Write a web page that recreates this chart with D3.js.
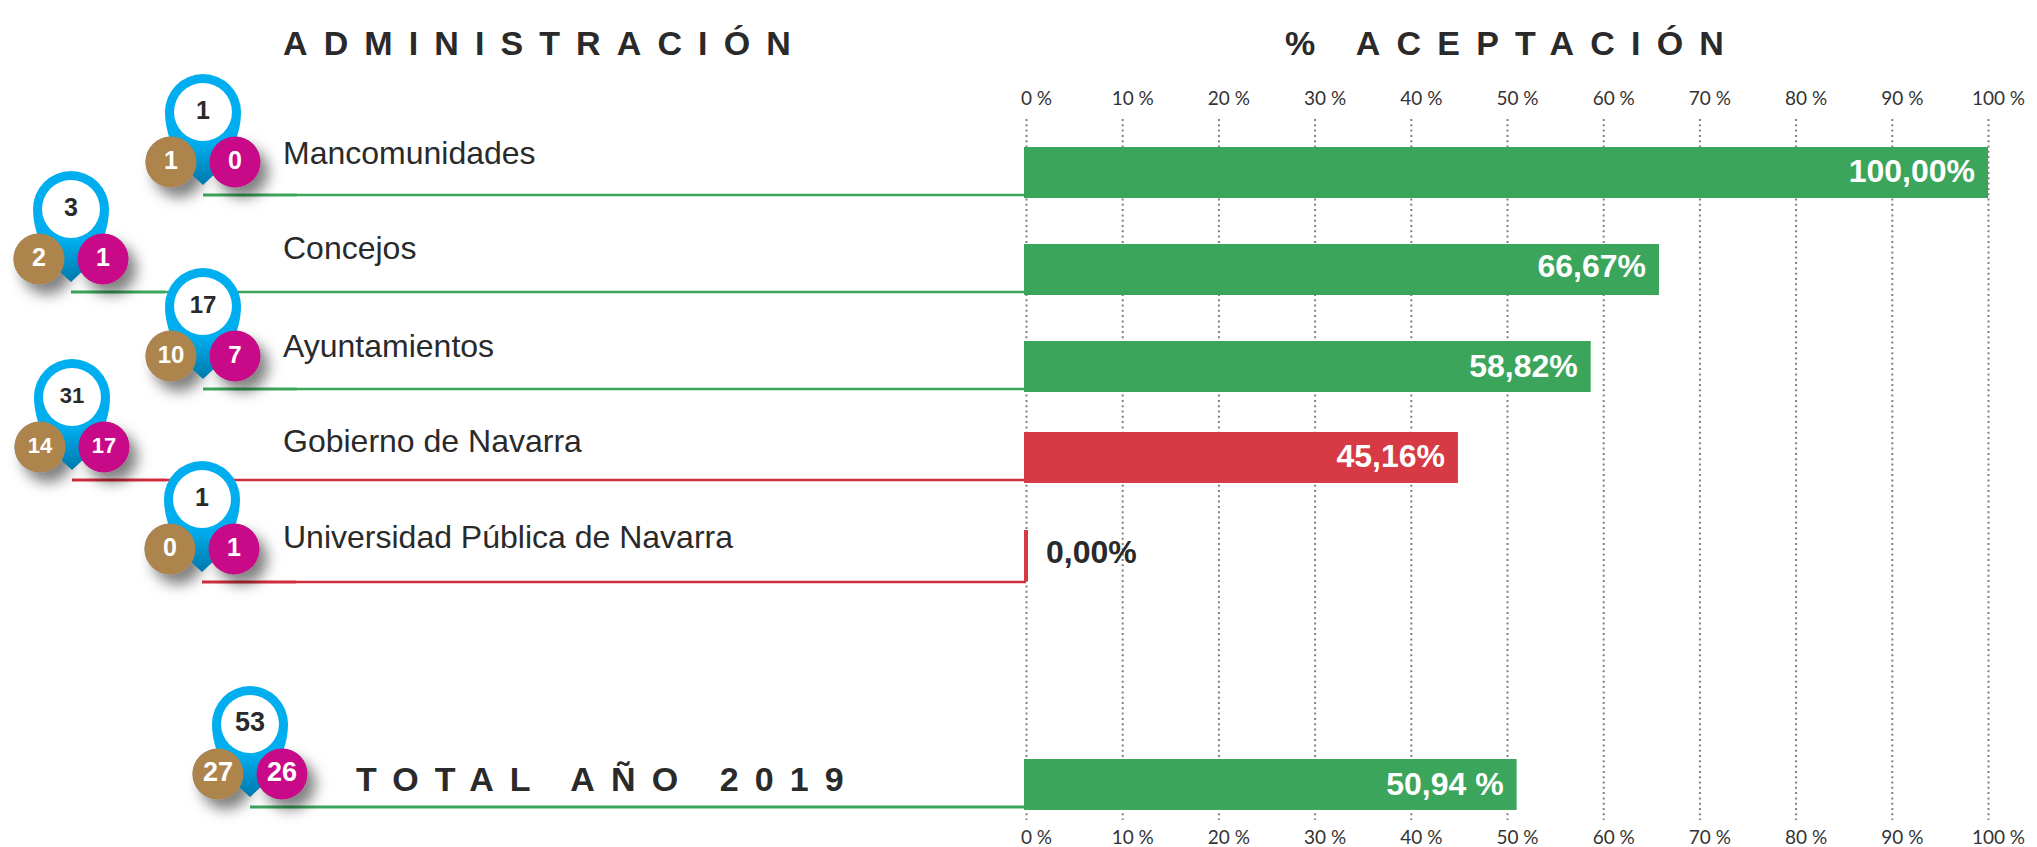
<!DOCTYPE html>
<html>

<head>
    <meta charset="utf-8">
    <script src="https://d3js.org/d3.v7.min.js"></script>
    <style type="text/css">
        html, body {
            margin: 0;
            background: #fff;
        }

        svg {
            display: block;
        }

        text {
            font-family: "Liberation Sans", sans-serif;
            fill: #2a2a2a;
        }

        .heading {
            font-size: 34px;
            font-weight: bold;
        }

        .cat {
            font-size: 32px;
        }

        .value {
            font-size: 32px;
            font-weight: bold;
        }

        .axis text {
            font-family: Lato, sans-serif;
            font-size: 19px;
            fill: #333;
        }

        .axis path.domain {
            display: none;
        }

        .grid line {
            stroke: #808080;
            stroke-width: 2;
            stroke-dasharray: 2 3.3;
        }
    </style>
</head>

<body>
    <div id="chart"></div>

    <script>
        const categories = ["Mancomunidades", "Concejos", "Ayuntamientos", "Gobierno de Navarra", "Universidad Pública de Navarra", "TOTAL AÑO 2019"];
        const barValues = [100, 65.8, 58.7, 44.9, 0, 51];
        const valueLabels = ["100,00%", "66,67%", "58,82%", "45,16%", "0,00%", "50,94 %"];
        const totals = [1, 3, 17, 31, 1, 53];
        const inFavour = [1, 2, 10, 14, 0, 27];
        const against = [0, 1, 7, 17, 1, 26];
        const accepted = [true, true, true, false, false, true];
        const ticks = [0, 10, 20, 30, 40, 50, 60, 70, 80, 90, 100];

        const width = 2037, height = 847;

        const svg = d3.select("#chart").append("svg")
            .attr("width", width)
            .attr("height", height);

        const x = d3.scaleLinear().domain([0, 100]).range([1026, 1988]);

        // rows are not evenly spaced in the original, so these are ordinal
        const barTop = d3.scaleOrdinal().domain(categories).range([147, 244, 341, 432, 530, 759]);
        const valueBase = d3.scaleOrdinal().domain(categories).range([182, 277, 377, 467, 563, 795]);
        const lineY = d3.scaleOrdinal().domain(categories).range([195, 292, 389, 480, 582, 807]);
        const pinX = d3.scaleOrdinal().domain(categories).range([203, 71, 203, 72, 202, 250]);
        const catBase = d3.scaleOrdinal().domain(categories).range([164, 259, 357, 452, 548, 791]);
        const pinFont = d3.scaleOrdinal().domain(categories).range([25, 25, 24, 22, 25, 27]);
        const barH = 51;

        const defs = svg.append("defs");

        const grad = defs.append("linearGradient")
            .attr("id", "pinGrad")
            .attr("x1", 0).attr("x2", 0).attr("y1", 0).attr("y2", 1);
        grad.append("stop").attr("offset", "0.62").attr("stop-color", "#00aeef");
        grad.append("stop").attr("offset", "1").attr("stop-color", "#0078ab");

        const shadow = defs.append("filter")
            .attr("id", "shadow")
            .attr("x", "-50%").attr("y", "-50%").attr("width", "220%").attr("height", "220%");
        shadow.append("feDropShadow")
            .attr("dx", 8).attr("dy", 10)
            .attr("stdDeviation", 7)
            .attr("flood-color", "#000")
            .attr("flood-opacity", 0.5);

        // Grid and tick labels
        const axisTop = svg.append("g")
            .attr("class", "axis grid")
            .attr("transform", "translate(0,119)")
            .call(d3.axisTop(x).tickValues(ticks).tickSize(-701).tickPadding(14).tickFormat(d => d + " %"));
        axisTop.selectAll("text").attr("dx", 10);

        const axisBottom = svg.append("g")
            .attr("class", "axis")
            .attr("transform", "translate(0,830)")
            .call(d3.axisBottom(x).tickValues(ticks).tickSize(0).tickPadding(0).tickFormat(d => d + " %"));
        axisBottom.selectAll("text").attr("dx", 10);

        // Headings
        svg.append("text").attr("class", "heading")
            .attr("x", 283).attr("y", 55)
            .style("letter-spacing", "16.1px")
            .text("ADMINISTRACIÓN");
        svg.append("text").attr("class", "heading")
            .attr("x", 1285).attr("y", 55)
            .style("letter-spacing", "16.2px")
            .text("% ACEPTACIÓN");

        const rows = categories.map((c, i) => ({
            name: c,
            bar: barValues[i],
            label: valueLabels[i],
            total: totals[i],
            yes: inFavour[i],
            no: against[i],
            color: accepted[i] ? "#3ca55c" : "#d63a44",
            lineColor: accepted[i] ? "#3ca55c" : "#cf2f3c"
        }));

        // Underlines: thick part near the pin, thin to the bar
        svg.selectAll(".thin").data(rows).enter().append("line")
            .attr("class", "thin")
            .attr("x1", d => pinX(d.name) + 94)
            .attr("x2", x(0))
            .attr("y1", d => lineY(d.name))
            .attr("y2", d => lineY(d.name))
            .attr("stroke", d => d.lineColor)
            .attr("stroke-width", d => d.name.startsWith("TOTAL") ? 3 : 2.5);
        svg.selectAll(".thick").data(rows).enter().append("line")
            .attr("class", "thick")
            .attr("x1", d => pinX(d.name))
            .attr("x2", d => pinX(d.name) + 94)
            .attr("y1", d => lineY(d.name))
            .attr("y2", d => lineY(d.name))
            .attr("stroke", d => d.lineColor)
            .attr("stroke-width", 3.2);

        // Bars
        svg.selectAll(".bar").data(rows).enter().append("rect")
            .attr("class", "bar")
            .attr("x", x(0) - 2)
            .attr("y", d => barTop(d.name))
            .attr("width", d => x(d.bar) - x(0) + (d.bar === 0 ? 4 : 2))
            .attr("height", barH)
            .attr("fill", d => d.color);

        // Bar labels
        svg.selectAll(".value").data(rows).enter().append("text")
            .attr("class", "value")
            .attr("x", d => d.bar === 0 ? x(0) + 20 : x(d.bar) - 13)
            .attr("y", d => valueBase(d.name))
            .attr("text-anchor", d => d.bar === 0 ? "start" : "end")
            .style("fill", d => d.bar === 0 ? "#2a2a2a" : "#fff")
            .text(d => d.label);

        // Category names
        svg.selectAll(".cat").data(rows).enter().append("text")
            .attr("class", d => d.name.startsWith("TOTAL") ? "heading" : "cat")
            .attr("x", d => d.name.startsWith("TOTAL") ? 356 : 283)
            .attr("y", d => catBase(d.name))
            .style("letter-spacing", d => d.name.startsWith("TOTAL") ? "16.1px" : null)
            .text(d => d.name);

        // Pins
        const pinPath = "M0,73 L-14,60 C-25,47 -38,25 -38,0 A38,38 0 1 1 38,0 C38,25 25,47 14,60 Z";

        const pins = svg.selectAll(".pin").data(rows).enter().append("g")
            .attr("class", "pin")
            .attr("transform", d => `translate(${pinX(d.name)},${lineY(d.name) - 83})`);

        // shadows go under the pin body so it stays bright
        [-32, 32].forEach(cx => {
            pins.append("circle").attr("cx", cx).attr("cy", 50).attr("r", 25.5)
                .attr("fill", "#888").attr("filter", "url(#shadow)");
        });

        pins.append("path").attr("d", pinPath).attr("fill", "url(#pinGrad)");
        pins.append("circle").attr("r", 29).attr("fill", "#fff");
        pins.append("circle").attr("cx", -32).attr("cy", 50).attr("r", 25.5).attr("fill", "#ad854c");
        pins.append("circle").attr("cx", 32).attr("cy", 50).attr("r", 25.5).attr("fill", "#c90a88");

        const pinText = (sel, cx, cy, fill, key) => sel.append("text")
            .attr("x", cx).attr("y", cy)
            .attr("text-anchor", "middle")
            .attr("dominant-baseline", "central")
            .style("font-weight", "bold")
            .style("font-size", d => pinFont(d.name) + "px")
            .style("fill", fill)
            .text(key);

        pinText(pins, 0, -2, "#2a2a2a", d => d.total);
        pinText(pins, -32, 48, "#fff", d => d.yes);
        pinText(pins, 32, 48, "#fff", d => d.no);
    </script>
</body>

</html>
